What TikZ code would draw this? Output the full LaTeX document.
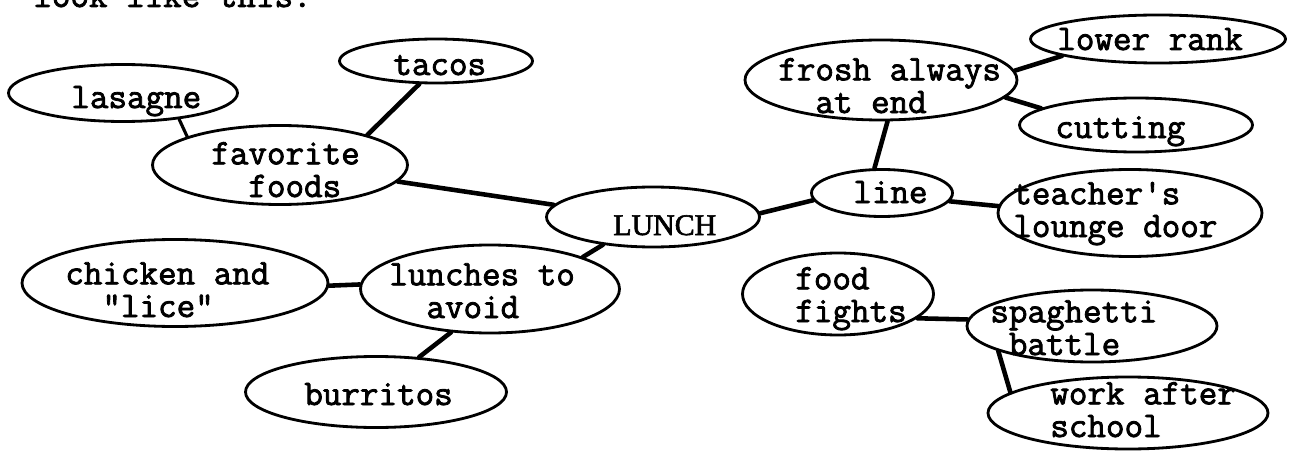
\documentclass[tikz,border=0pt]{standalone}
\usepackage{fontspec}
\newfontfamily\typefont[FakeBold=2.2,Ligatures=TeXOff]{Latin Modern Mono}
\newfontfamily\titlefont[FakeBold=2]{Liberation Serif}
\usetikzlibrary{shapes.geometric}
\newcommand\ind[1]{\phantom{#1}}
\begin{document}
\begin{tikzpicture}[x=0.02cm,y=-0.02cm,
  bubble/.style 2 args={draw, ellipse, line width=1.6pt, inner sep=0pt,
    minimum width=#1*0.02cm, minimum height=#2*0.02cm},
  link/.style={line width=2.6pt, line cap=round},
  % two-line labels are placed by the baseline of their last line
  typed/.style={font=\typefont\fontsize{20.5}{18.6}\selectfont, inner sep=0pt,
    anchor=base west, align=left},
  title/.style={font=\titlefont\fontsize{17}{20}\selectfont, inner sep=0pt, anchor=base west},
]
\fill[white] (0,0) rectangle (1291,456);
\useasboundingbox (0,0) rectangle (1291,456);

% preceding line of text, cut at the top edge
\node[typed] (lead) at (33,7) {look like this:};

% bubbles
\node[bubble={193}{44}] (tacos) at (436,61) {};
\node[bubble={229}{57}] (lasagne) at (123,93) {};
\node[bubble={255}{79}] (fav) at (280,165) {};
\node[bubble={213}{60}] (lunch) at (653,217) {};
\node[bubble={306}{87}] (chicken) at (175,283) {};
\node[bubble={259}{88}] (avoid) at (490,289) {};
\node[bubble={261}{71}] (burritos) at (376,392) {};
\node[bubble={272}{80}] (frosh) at (881,80) {};
\node[bubble={255}{48}] (lower) at (1158,39) {};
\node[bubble={233}{54}] (cutting) at (1136,125) {};
\node[bubble={141}{47}] (line) at (882,193) {};
\node[bubble={264}{87}] (teacher) at (1130,213) {};
\node[bubble={191}{82}] (fights) at (838,294) {};
\node[bubble={250}{72}] (spag) at (1092,326) {};
\node[bubble={280}{72}] (work) at (1128,413) {};

% typed labels
\node[typed] (tacos-t) at (393,75) {tacos};
\node[typed] (lasagne-t) at (71,108) {lasagne};
\node[typed] (fav-t) at (211,197) {favorite\\\ind{xx}foods};
\node[title] (lunch-t) at (613,235) {LUNCH};
\node[typed] (chicken-t) at (65,317) {chicken and\\\ind{xx}"lice"};
\node[typed] (avoid-t) at (389,318) {lunches to\\\ind{xx}avoid};
\node[typed] (burritos-t) at (304,405) {burritos};
\node[typed] (frosh-t) at (778,113) {frosh always\\\ind{xx}at end};
\node[typed] (lower-t) at (1057,50) {lower rank};
\node[typed] (cutting-t) at (1055,138) {cutting};
\node[typed] (line-t) at (853,203) {line};
\node[typed] (teacher-t) at (1013,237) {teacher's\\lounge door};
\node[typed] (fights-t) at (795,322) {food\\fights};
\node[typed] (spag-t) at (990,355) {spaghetti\\\ind{x}battle};
\node[typed] (work-t) at (1050,437) {work after\\school};

% connectors
\draw[link] (tacos.-126) -- (fav.19);
\draw[link, line width=1.8pt] (lasagne.-25) -- (fav.163);
\draw[link] (fav.-8) -- (lunch.173);
\draw[link] (lunch.-151) -- (avoid.19);
\draw[link] (chicken.-1) -- (avoid.178);
\draw[link] (avoid.-132) -- (burritos.39);
\draw[link] (lunch.2) -- (line.186);
\draw[link] (frosh.-81) -- (line.107);
\draw[link] (frosh.4) -- (lower.-170);
\draw[link] (frosh.-8) -- (cutting.170);
\draw[link] (line.-7) -- (teacher.177);
\draw[link] (fights.-17) -- (spag.177);
\draw[link] (spag.-165) -- (work.170);
\end{tikzpicture}
\end{document}
